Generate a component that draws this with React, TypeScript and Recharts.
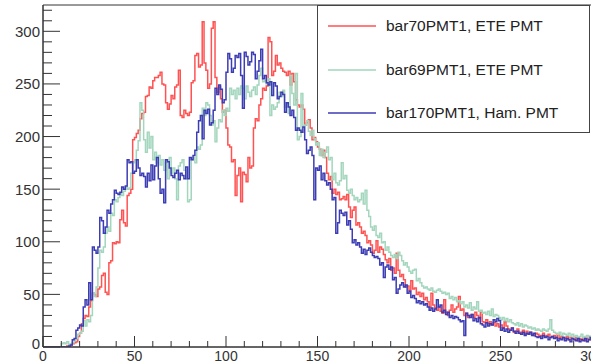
import { LineChart, Line, XAxis, YAxis, ReferenceArea } from "recharts";

// bin contents, one value per unit bin from 0 to 299
const bar70 = [
  0, 0, 0, 0, 0, 0, 0, 0, 0, 0,
  0, 0, 0, 1, 0, 2, 3, 4, 5, 10,
  13, 22, 27, 30, 29, 38, 44, 51, 50, 48,
  55, 57, 68, 70, 52, 50, 80, 82, 99, 98,
  100, 99, 121, 130, 118, 115, 144, 146, 150, 197,
  199, 203, 206, 217, 222, 223, 238, 239, 247, 246,
  253, 256, 256, 258, 261, 250, 249, 232, 226, 231,
  239, 236, 247, 249, 263, 220, 218, 225, 222, 220,
  223, 251, 253, 277, 279, 266, 268, 309, 270, 263,
  246, 250, 303, 309, 256, 242, 247, 236, 223, 225,
  208, 192, 190, 176, 178, 144, 163, 170, 138, 166,
  164, 157, 180, 170, 172, 208, 217, 215, 230, 236,
  246, 244, 248, 294, 290, 258, 262, 277, 268, 270,
  265, 262, 261, 258, 262, 249, 260, 252, 235, 230,
  228, 230, 226, 211, 213, 216, 208, 197, 199, 195,
  190, 188, 182, 187, 180, 165, 159, 162, 146, 150,
  145, 147, 140, 141, 143, 140, 145, 133, 123, 130,
  133, 116, 118, 114, 108, 110, 106, 99, 101, 97,
  89, 92, 101, 90, 95, 93, 88, 83, 80, 84,
  73, 75, 70, 89, 73, 67, 69, 64, 57, 58,
  54, 63, 55, 56, 50, 52, 48, 51, 45, 47,
  43, 38, 51, 40, 37, 35, 38, 34, 32, 45,
  33, 30, 35, 40, 33, 36, 38, 48, 35, 36,
  30, 32, 28, 30, 31, 28, 33, 30, 27, 33,
  24, 23, 26, 22, 24, 21, 23, 20, 22, 19,
  21, 18, 24, 20, 17, 16, 18, 14, 15, 17,
  13, 14, 16, 12, 15, 13, 14, 12, 11, 13,
  12, 10, 11, 13, 10, 11, 12, 9, 10, 11,
  9, 12, 8, 10, 9, 8, 10, 7, 9, 8,
  7, 9, 6, 8, 7, 9, 6, 8, 10, 7,
];

const bar69 = [
  0, 0, 0, 0, 0, 0, 0, 0, 0, 0,
  3, 4, 3, 5, 2, 3, 4, 6, 8, 12,
  13, 15, 25, 20, 26, 24, 30, 51, 48, 57,
  75, 92, 90, 95, 108, 114, 110, 127, 125, 140,
  138, 142, 146, 144, 148, 152, 150, 151, 165, 175,
  178, 187, 196, 232, 225, 197, 185, 204, 189, 200,
  178, 185, 175, 182, 173, 178, 168, 175, 160, 180,
  165, 170, 160, 140, 172, 175, 178, 168, 160, 138,
  140, 178, 180, 175, 190, 188, 192, 227, 220, 232,
  230, 220, 211, 215, 195, 208, 216, 214, 225, 220,
  227, 224, 246, 240, 244, 236, 246, 240, 248, 246,
  236, 248, 242, 238, 244, 247, 240, 249, 258, 265,
  252, 253, 250, 255, 220, 230, 226, 228, 232, 242,
  238, 244, 228, 232, 222, 258, 241, 230, 260, 197,
  200, 241, 210, 211, 215, 205, 201, 206, 198, 192,
  194, 182, 188, 180, 185, 190, 178, 180, 159, 165,
  156, 154, 158, 175, 160, 163, 149, 146, 150, 144,
  140, 142, 138, 140, 146, 136, 149, 130, 124, 114,
  111, 115, 106, 104, 108, 99, 100, 92, 95, 90,
  87, 85, 88, 84, 90, 87, 82, 78, 80, 76,
  72, 70, 73, 74, 63, 65, 61, 58, 56, 57,
  55, 54, 56, 53, 52, 54, 55, 53, 51, 52,
  50, 51, 46, 48, 45, 47, 43, 44, 41, 43,
  38, 40, 37, 42, 35, 38, 36, 43, 34, 35,
  32, 33, 31, 34, 30, 36, 29, 31, 30, 28,
  26, 28, 25, 27, 24, 26, 23, 22, 21, 23,
  20, 22, 19, 21, 20, 18, 19, 17, 18, 16,
  17, 16, 15, 17, 16, 15, 17, 26, 16, 14,
  13, 12, 14, 11, 13, 12, 11, 13, 10, 12,
  10, 11, 9, 10, 12, 9, 10, 11, 9, 10,
];

const bar170 = [
  0, 0, 0, 0, 0, 0, 0, 0, 0, 0,
  0, 0, 0, 0, 1, 2, 7, 8, 16, 18,
  21, 20, 38, 45, 40, 61, 45, 95, 92, 89,
  95, 123, 120, 108, 114, 130, 127, 136, 140, 149,
  146, 145, 147, 152, 150, 153, 178, 175, 176, 165,
  167, 178, 170, 163, 165, 162, 152, 165, 158, 173,
  159, 172, 180, 160, 146, 150, 137, 178, 176, 170,
  163, 161, 165, 168, 159, 165, 163, 160, 171, 160,
  180, 178, 182, 187, 204, 215, 220, 198, 225, 222,
  226, 211, 213, 225, 246, 240, 249, 245, 232, 235,
  261, 279, 274, 261, 265, 277, 275, 279, 258, 227,
  280, 276, 268, 271, 280, 278, 255, 262, 272, 283,
  255, 258, 251, 249, 252, 239, 251, 248, 236, 238,
  242, 240, 223, 232, 228, 220, 225, 218, 206, 208,
  206, 204, 209, 197, 184, 187, 190, 182, 140, 170,
  168, 172, 159, 165, 158, 154, 156, 150, 140, 142,
  108, 118, 130, 127, 125, 128, 116, 120, 112, 99,
  102, 97, 99, 95, 89, 93, 88, 92, 94, 90,
  87, 85, 86, 84, 78, 80, 66, 76, 78, 74,
  76, 64, 66, 51, 55, 59, 61, 57, 59, 51,
  53, 47, 49, 46, 42, 44, 41, 43, 40, 41,
  38, 35, 37, 34, 36, 45, 38, 40, 33, 35,
  31, 33, 28, 30, 27, 29, 28, 26, 24, 25,
  11, 32, 30, 28, 31, 25, 27, 24, 28, 22,
  21, 19, 23, 20, 22, 21, 26, 24, 27, 25,
  16, 18, 15, 17, 14, 16, 18, 15, 13, 15,
  13, 12, 14, 11, 13, 12, 14, 11, 13, 10,
  9, 10, 8, 11, 9, 10, 7, 9, 10, 8,
  9, 6, 8, 7, 9, 6, 8, 7, 5, 8,
  7, 6, 8, 5, 7, 6, 8, 5, 7, 9,
];

const xTicks = [0, 10, 20, 30, 40, 50, 60, 70, 80, 90, 100, 110, 120, 130, 140, 150,
  160, 170, 180, 190, 200, 210, 220, 230, 240, 250, 260, 270, 280, 290, 300];
const yTicks = [0, 10, 20, 30, 40, 50, 60, 70, 80, 90, 100, 110, 120, 130, 140, 150,
  160, 170, 180, 190, 200, 210, 220, 230, 240, 250, 260, 270, 280, 290, 300, 310, 320];

const series = [
  { key: "bar70", name: "bar70PMT1, ETE PMT", color: "#ff5252" },
  { key: "bar69", name: "bar69PMT1, ETE PMT", color: "#a3d6bd" },
  { key: "bar170", name: "bar170PMT1, Ham. PMT", color: "#3c3cb4" },
];

// one row per bin edge; the last edge repeats the last bin so the step closes at 300
const rows = Array.from({ length: bar70.length + 1 }, (_, i) => {
  const k = Math.min(i, bar70.length - 1);
  return { x: i, bar70: bar70[k], bar69: bar69[k], bar170: bar170[k] };
});

const FONT = "'Liberation Sans', Arial, sans-serif";

const YTick = (props: any) => {
  const { x, y, payload } = props;
  const major = payload.value % 50 === 0;
  // the zero label sits a little higher so it clears the x-axis zero
  const lift = payload.value === 0 ? 3 : 0;
  return (
    <g>
      <line x1={x} x2={x + (major ? 17 : 9)} y1={y} y2={y} stroke="#333" strokeWidth={1} />
      {major && (
        <text x={x - 3} y={y - lift} dy="0.36em" textAnchor="end" fontSize={15} fill="#333" fontFamily={FONT}>
          {payload.value}
        </text>
      )}
    </g>
  );
};

const XTick = (props: any) => {
  const { x, y, payload } = props;
  const major = payload.value % 50 === 0;
  return (
    <g>
      <line x1={x} x2={x} y1={y} y2={y - (major ? 11 : 6)} stroke="#333" strokeWidth={1} />
      {major && (
        <text x={x} y={y + 9} dy="0.36em" textAnchor="middle" fontSize={14} fill="#333" fontFamily={FONT}>
          {payload.value}
        </text>
      )}
    </g>
  );
};

export default function App() {
  return (
    <div style={{ position: "absolute", left: 0, top: 0, width: 591, height: 364, overflow: "hidden", background: "#fff" }}>
      <LineChart width={600} height={364} data={rows} margin={{ top: 5, right: 8, bottom: 0, left: 0 }}>
        <XAxis
          dataKey="x"
          type="number"
          domain={[0, 300]}
          ticks={xTicks}
          interval={0}
          height={17}
          tickSize={0}
          tickMargin={0}
          tick={<XTick />}
          axisLine={{ stroke: "#333" }}
        />
        <YAxis
          type="number"
          domain={[0, 325]}
          allowDataOverflow
          ticks={yTicks}
          interval={0}
          width={43}
          tickSize={0}
          tickMargin={0}
          tick={<YTick />}
          axisLine={{ stroke: "#333" }}
        />
        <ReferenceArea x1={0} x2={300} y1={0} y2={325} fillOpacity={0} stroke="#333" strokeWidth={1} />
        {series.map((s) => (
          <Line
            key={s.key}
            type="stepAfter"
            dataKey={s.key}
            name={s.name}
            stroke={s.color}
            strokeWidth={1.5}
            dot={false}
            activeDot={false}
            isAnimationActive={false}
          />
        ))}
      </LineChart>
      <div
        style={{
          position: "absolute",
          left: 317,
          top: 5,
          width: 271,
          height: 126,
          border: "1px solid #444",
          background: "#fff",
          fontFamily: FONT,
          fontSize: 15.5,
          color: "#222",
        }}
      >
        {series.map((s, i) => (
          <div key={s.key} style={{ position: "absolute", left: 10, top: 10 + i * 43.5, height: 20, display: "flex", alignItems: "center", whiteSpace: "nowrap" }}>
            <svg width={48} height={4} style={{ marginRight: 10 }}>
              <line x1={0} x2={48} y1={2} y2={2} stroke={s.color} strokeWidth={1.5} />
            </svg>
            <span>{s.name}</span>
          </div>
        ))}
      </div>
    </div>
  );
}
